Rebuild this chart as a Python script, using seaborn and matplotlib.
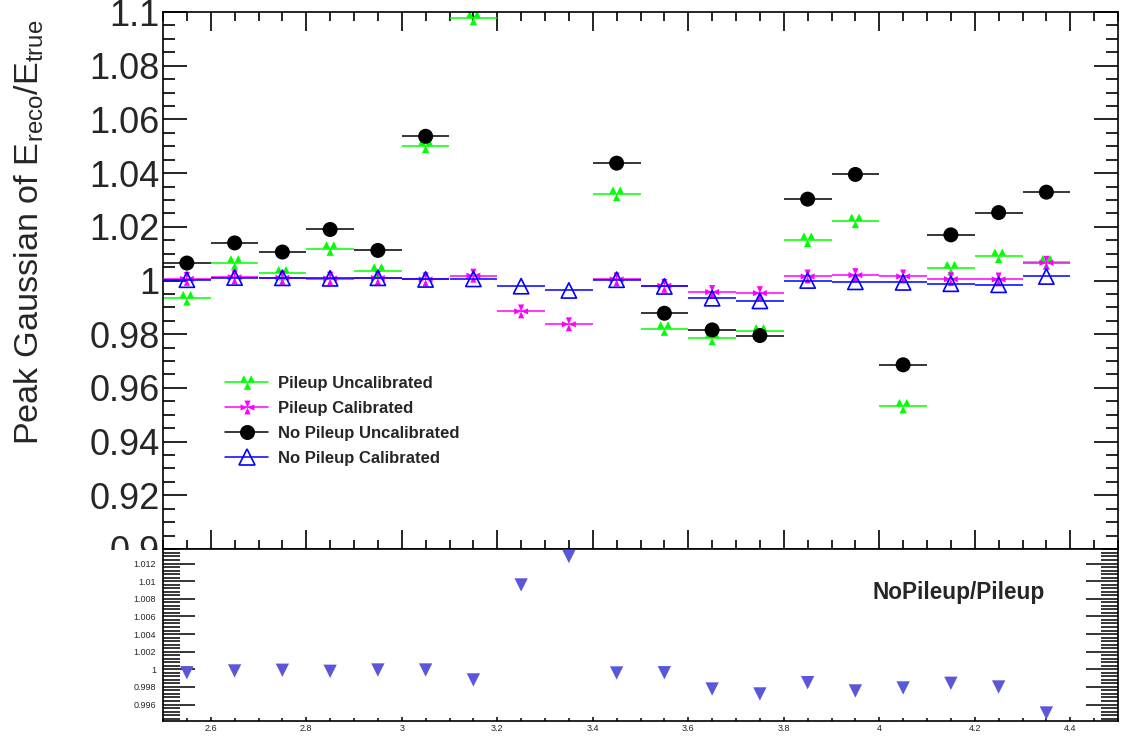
import numpy as np
import matplotlib
matplotlib.use("Agg")
import matplotlib.pyplot as plt
from matplotlib.path import Path
from matplotlib.lines import Line2D
from matplotlib.patches import Rectangle
from matplotlib.ticker import MultipleLocator, FuncFormatter
import seaborn as sns

nan = np.nan

# ---------------- data ----------------
bin_centers = [2.55, 2.65, 2.75, 2.85, 2.95, 3.05, 3.15, 3.25, 3.35, 3.45,
               3.55, 3.65, 3.75, 3.85, 3.95, 4.05, 4.15, 4.25, 4.35]
bin_half_width = 0.05

pileup_uncalibrated = [0.9934, 1.0067, 1.0027, 1.0119, 1.0037, 1.0502, 1.0978, nan, nan, 1.0323,
                       0.9821, 0.9786, 0.9811, 1.0152, 1.0222, 0.9532, 1.0046, 1.0092, 1.0068]
pileup_calibrated = [1.0006, 1.0012, 1.0010, 1.0007, 1.0009, 1.0004, 1.0018, 0.9885, 0.9837, 1.0004,
                     0.9980, 0.9957, 0.9953, 1.0015, 1.0020, 1.0015, 1.0005, 1.0004, 1.0066]
nopileup_uncalibrated = [1.0065, 1.0140, 1.0106, 1.0190, 1.0112, 1.0537, nan, nan, nan, 1.0437,
                         0.9878, 0.9816, 0.9795, 1.0303, 1.0395, 0.9686, 1.0170, 1.0253, 1.0329]
nopileup_calibrated = [1.0003, 1.0011, 1.0010, 1.0008, 1.0010, 1.0004, 1.0006, 0.9979, 0.9963, 1.0003,
                       0.9978, 0.9934, 0.9924, 1.0000, 0.9995, 0.9993, 0.9988, 0.9984, 1.0015]
ratio_nopileup_pileup = [0.99961, 0.99981, 0.99989, 0.99977, 0.99992, 0.99992, 0.99879, 1.00957, 1.01280, 0.99958,
                         0.99961, 0.99776, 0.99720, 0.99848, 0.99754, 0.99788, 0.99841, 0.99799, 0.99504]

series_labels = ["Pileup Uncalibrated", "Pileup Calibrated",
                 "No Pileup Uncalibrated", "No Pileup Calibrated"]
ratio_text = "NoPileup/Pileup"
y_label = r"Peak Gaussian of E$_{\mathrm{reco}}$/E$_{\mathrm{true}}$"

# ---------------- style ----------------
sns.set_theme(style="ticks")
plt.rcParams["font.family"] = ["Liberation Sans", "DejaVu Sans"]
plt.rcParams["mathtext.fontset"] = "custom"
plt.rcParams["mathtext.rm"] = "Liberation Sans"
plt.rcParams["mathtext.it"] = "Liberation Sans:italic"
plt.rcParams["mathtext.bf"] = "Liberation Sans:bold"

W, H = 1121, 742
fig = plt.figure(figsize=(W / 100, H / 100), dpi=100)
fig.patch.set_facecolor("white")

ax_top = fig.add_axes([163 / W, 1 - 549 / H, (1118 - 163) / W, (549 - 12) / H], zorder=0)
ax_bot = fig.add_axes([163 / W, 1 - 721 / H, (1118 - 163) / W, (721 - 549) / H], zorder=2)
ax_bot.set_facecolor("white")

# white cover for the lower pad region (hides lower half of the 0.9 label)
fig.add_artist(Rectangle((0, 0), 1, 1 - 549.5 / H, transform=fig.transFigure,
                         facecolor="white", edgecolor="none", zorder=1))


def poly_path(polys):
    verts, codes = [], []
    for p in polys:
        verts += list(p) + [p[0]]
        codes += [Path.MOVETO] + [Path.LINETO] * (len(p) - 1) + [Path.CLOSEPOLY]
    return Path(verts, codes)


three_triangles = poly_path([
    [(-0.5, 0.0), (0.0, 0.0), (-0.25, 0.5)],
    [(0.0, 0.0), (0.5, 0.0), (0.25, 0.5)],
    [(-0.25, -0.5), (0.25, -0.5), (0.0, 0.0)],
])
four_triangles_plus = poly_path([
    [(0, 0), (-0.22, 0.5), (0.22, 0.5)],
    [(0, 0), (-0.22, -0.5), (0.22, -0.5)],
    [(0, 0), (0.5, -0.22), (0.5, 0.22)],
    [(0, 0), (-0.5, -0.22), (-0.5, 0.22)],
])

series = [
    (pileup_uncalibrated, "#00FF00", three_triangles, 10.5, True),
    (pileup_calibrated, "#FF00FF", four_triangles_plus, 10.0, True),
    (nopileup_uncalibrated, "#000000", "o", 10.8, True),
    (nopileup_calibrated, "#0000FF", "^", 11.0, False),
]

handles = []
for i, (vals, col, mk, ms, filled) in enumerate(series):
    z = 2 + i
    ax_top.errorbar(bin_centers, vals, xerr=bin_half_width, fmt="none",
                    ecolor=col, elinewidth=1.1, capsize=0, zorder=z)
    sns.scatterplot(x=bin_centers, y=vals, ax=ax_top, marker=mk, s=ms ** 2,
                    color=col, linewidth=0 if filled else 1.2, zorder=z + 0.5, legend=False)
    coll = ax_top.collections[-1]
    if not filled:
        coll.set_facecolor("none")
        coll.set_edgecolor(col)
        coll.set_linewidth(1.2)
    else:
        coll.set_edgecolor("none")
    handles.append(Line2D([], [], color=col, linewidth=1.1, marker=mk, markersize=ms,
                          markerfacecolor=col if filled else "none",
                          markeredgecolor=col if not filled else "none",
                          markeredgewidth=1.2 if not filled else 0))

ax_top.set_xlim(2.5, 4.5)
ax_top.set_ylim(0.9, 1.1)

fmt = FuncFormatter(lambda v, p: "%g" % round(v, 6))

ax_top.xaxis.set_major_locator(MultipleLocator(0.2))
ax_top.xaxis.set_minor_locator(MultipleLocator(0.05))
ax_top.yaxis.set_major_locator(MultipleLocator(0.02))
ax_top.yaxis.set_minor_locator(MultipleLocator(0.005))
ax_top.yaxis.set_major_formatter(fmt)
ax_top.tick_params(axis="both", which="both", direction="in", top=True, right=True,
                   width=1.2, color="black")
ax_top.tick_params(axis="x", which="major", length=13.7, labelbottom=False)
ax_top.tick_params(axis="x", which="minor", length=6.5)
ax_top.tick_params(axis="y", which="major", length=17.3, labelsize=26, pad=2.5)
ax_top.tick_params(axis="y", which="minor", length=8.6)
for sp in ax_top.spines.values():
    sp.set_linewidth(1.2)
    sp.set_color("black")
ax_top.set_xlabel("")
ax_top.set_ylabel("")

fig.text(29 / W, 1 - 232 / H, y_label, rotation=90, ha="center", va="center", fontsize=24.7)

ax_top.legend(handles, series_labels, loc="center left",
              bbox_to_anchor=(225 / W, 1 - 421 / H), bbox_transform=fig.transFigure,
              frameon=False, prop={"weight": "bold", "size": 12},
              handlelength=2.6, handletextpad=0.6, labelspacing=0.61,
              borderpad=0, borderaxespad=0)

# ---------------- ratio pad ----------------
sns.scatterplot(x=bin_centers, y=ratio_nopileup_pileup, ax=ax_bot, marker="v",
                s=9.6 ** 2, color="#5B57D9", linewidth=0, legend=False, zorder=3)
ax_bot.collections[-1].set_edgecolor("none")
ax_bot.set_xlim(2.5, 4.5)
ax_bot.set_ylim(0.99413, 1.01365)
ax_bot.xaxis.set_major_locator(MultipleLocator(0.2))
ax_bot.xaxis.set_minor_locator(MultipleLocator(0.05))
ax_bot.yaxis.set_major_locator(MultipleLocator(0.002))
ax_bot.yaxis.set_minor_locator(MultipleLocator(0.0004))
ax_bot.xaxis.set_major_formatter(fmt)
ax_bot.yaxis.set_major_formatter(fmt)
ax_bot.tick_params(axis="both", which="both", direction="in", width=1.1, color="black")
ax_bot.tick_params(axis="y", which="both", left=True, right=True)
ax_bot.tick_params(axis="y", which="major", length=23, labelsize=6.5, pad=5)
ax_bot.tick_params(axis="y", which="minor", length=11.9)
ax_bot.tick_params(axis="x", which="both", top=False, bottom=True)
ax_bot.tick_params(axis="x", which="major", length=3.1, labelsize=6.5, pad=2)
ax_bot.tick_params(axis="x", which="minor", length=1.9)
for sp in ax_bot.spines.values():
    sp.set_linewidth(1.2)
    sp.set_color("black")
ax_bot.set_xlabel("")
ax_bot.set_ylabel("")

fig.text(872 / W, 1 - 593 / H, ratio_text, ha="left", va="center",
         fontsize=16.3, fontweight="bold")

fig.savefig("out.png", dpi=100)
